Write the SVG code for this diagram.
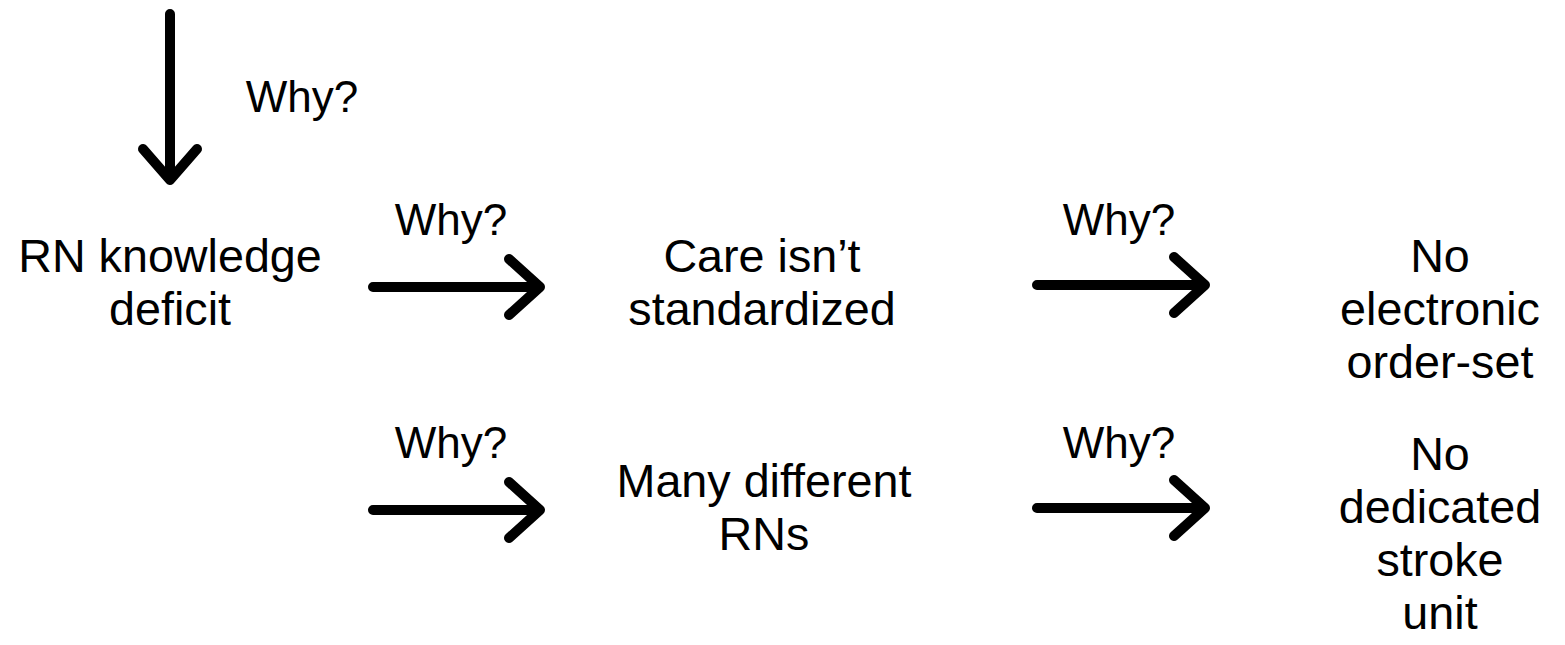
<svg xmlns="http://www.w3.org/2000/svg" width="1565" height="645" viewBox="0 0 1565 645">
<style>
text{font-family:"Liberation Sans",Arial,sans-serif;font-size:46.7px;fill:#000;text-anchor:middle}
text.why{font-size:44px}
.arr{fill:none;stroke:#000;stroke-width:10;stroke-linecap:round;stroke-linejoin:round}
</style>
<rect width="1565" height="645" fill="#fff"/>
<g id="connectors">
<path class="arr" d="M170,14 V180 M143,149 L170,180 L197,149"/>
<text class="why" x="302" y="112">Why?</text>
<path class="arr" d="M373,287 H540 M509,259 L540,287 L509,315"/>
<text class="why" x="451" y="235">Why?</text>
<path class="arr" d="M1037,285 H1205 M1174,257 L1205,285 L1174,313"/>
<text class="why" x="1119" y="235">Why?</text>
<path class="arr" d="M373,510 H540 M509,482 L540,510 L509,538"/>
<text class="why" x="451" y="458">Why?</text>
<path class="arr" d="M1037,508 H1205 M1174,480 L1205,508 L1174,536"/>
<text class="why" x="1119" y="458">Why?</text>
</g>
<g id="n1"><text x="170" y="272">RN knowledge</text><text x="170" y="325">deficit</text></g>
<g id="n2"><text x="762" y="272">Care isn’t</text><text x="762" y="325">standardized</text></g>
<g id="n3"><text x="1440" y="272">No</text><text x="1440" y="325">electronic</text><text x="1440" y="378">order-set</text></g>
<g id="n4"><text x="764" y="497">Many different</text><text x="764" y="550">RNs</text></g>
<g id="n5"><text x="1440" y="470">No</text><text x="1440" y="523">dedicated</text><text x="1440" y="576">stroke</text><text x="1440" y="629">unit</text></g>
</svg>
